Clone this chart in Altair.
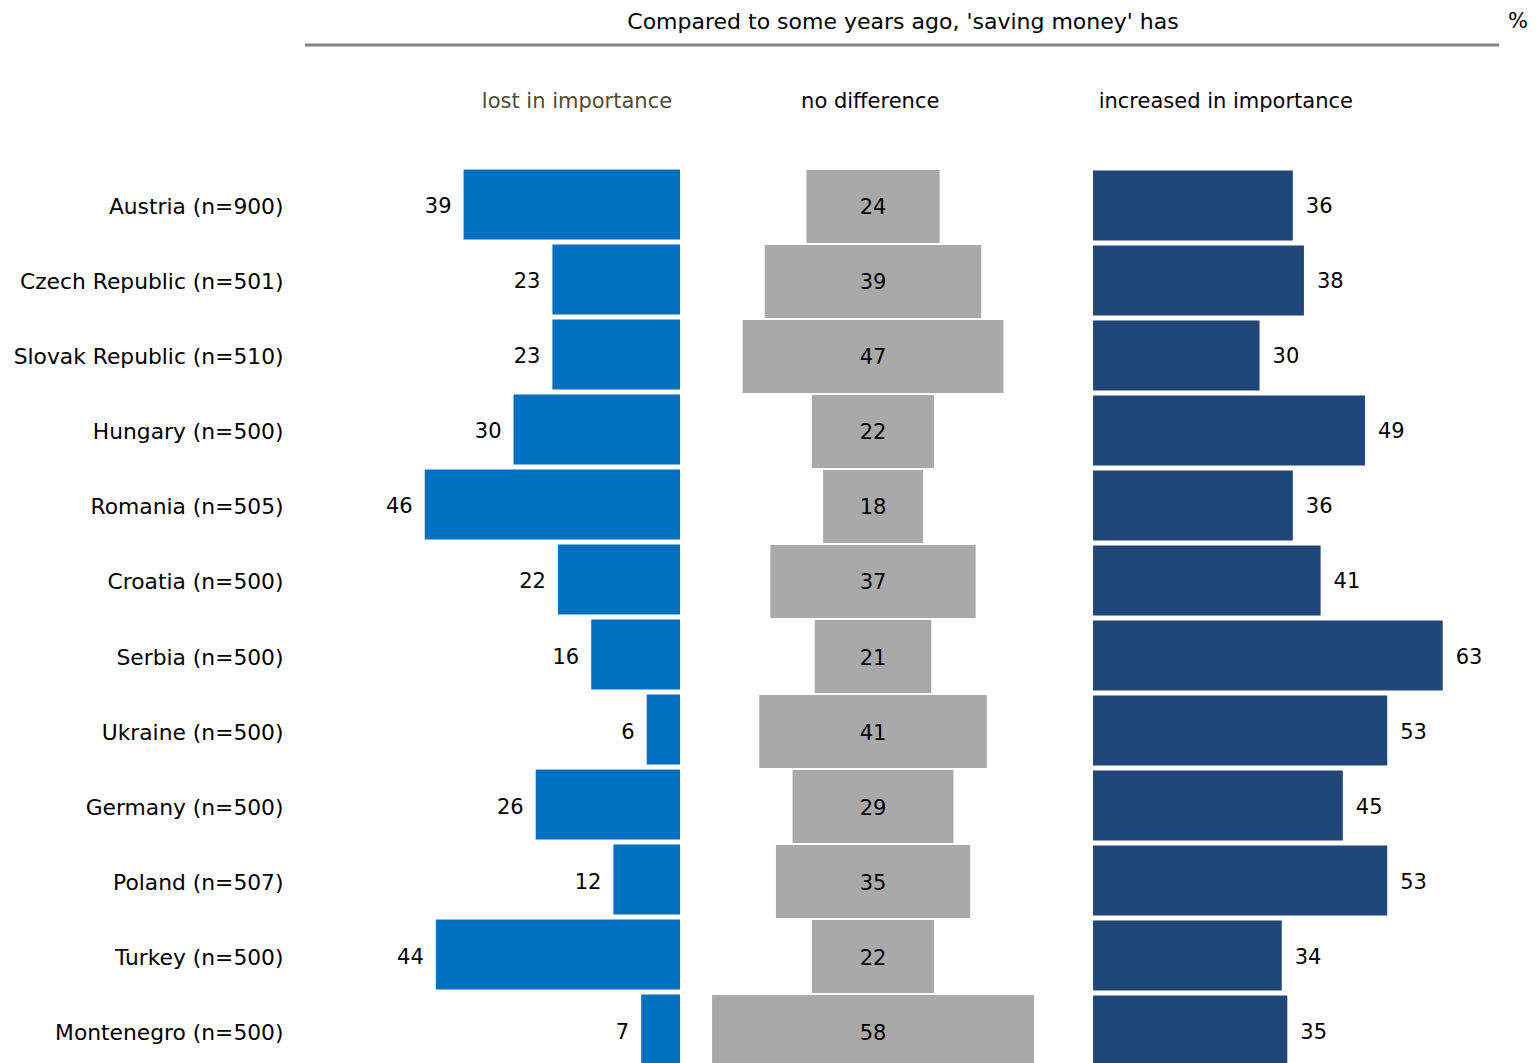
import altair as alt
import pandas as pd

countries = [
    "Austria (n=900)", "Czech Republic (n=501)", "Slovak Republic (n=510)",
    "Hungary (n=500)", "Romania (n=505)", "Croatia (n=500)", "Serbia (n=500)",
    "Ukraine (n=500)", "Germany (n=500)", "Poland (n=507)", "Turkey (n=500)",
    "Montenegro (n=500)",
]
lost = [39, 23, 23, 30, 46, 22, 16, 6, 26, 12, 44, 7]
nodiff = [24, 39, 47, 22, 18, 37, 21, 41, 29, 35, 22, 58]
increased = [36, 38, 30, 49, 36, 41, 63, 53, 45, 53, 34, 35]

headers = ["lost in importance", "no difference", "increased in importance"]
header_colors = ["#4F4B2F", "#000000", "#000000"]
title_text = "Compared to some years ago, 'saving money' has"

FONT = "DejaVu Sans"
FS = 21

# layout anchors in value units
LEFT_END = 68.47
MID = 103.24
RIGHT_START = 142.88
UNIT_MAX = 216.2

df = pd.DataFrame({"country": countries, "lost": lost, "nodiff": nodiff, "inc": increased})

x_scale = alt.Scale(domain=[0, UNIT_MAX], nice=False, zero=False)
y_scale = alt.Scale(domain=countries, range=[0, 900], paddingInner=0.0667, paddingOuter=0.0333)

base = alt.Chart(df).transform_calculate(
    lost_x0=f"{LEFT_END} - datum.lost",
    lost_x1=f"{LEFT_END}",
    nd_x0=f"{MID} - datum.nodiff / 2",
    nd_x1=f"{MID} + datum.nodiff / 2",
    nd_c=f"{MID}",
    inc_x0=f"{RIGHT_START}",
    inc_x1=f"{RIGHT_START} + datum.inc",
)

y_axis = alt.Axis(
    title=None, ticks=False, domain=False, grid=False,
    labelFont=FONT, labelFontSize=21.8, labelColor="#000000",
    labelPadding=17, labelLimit=400, labelBaseline="middle", labelOffset=3,
)


def Y():
    return alt.Y("country:N", scale=y_scale, sort=countries, axis=y_axis)


blue = base.mark_bar(color="#0070C0").encode(
    x=alt.X("lost_x0:Q", scale=x_scale, axis=None),
    x2="lost_x1:Q",
    y=Y(),
)
blue_txt = base.mark_text(align="right", baseline="middle", dx=-12, dy=3, font=FONT, fontSize=FS, color="#000000").encode(
    x=alt.X("lost_x0:Q", scale=x_scale, axis=None),
    y=Y(),
    text="lost:Q",
)

gray = base.mark_bar(color="#A9A9A9", height=73, yOffset=2).encode(
    x=alt.X("nd_x0:Q", scale=x_scale, axis=None),
    x2="nd_x1:Q",
    y=Y(),
)
gray_txt = base.mark_text(align="center", baseline="middle", dy=4, font=FONT, fontSize=FS, color="#000000").encode(
    x=alt.X("nd_c:Q", scale=x_scale, axis=None),
    y=Y(),
    text="nodiff:Q",
)

dark = base.mark_bar(color="#1F477A", yOffset=1).encode(
    x=alt.X("inc_x0:Q", scale=x_scale, axis=None),
    x2="inc_x1:Q",
    y=Y(),
)
dark_txt = base.mark_text(align="left", baseline="middle", dx=13, dy=3, font=FONT, fontSize=FS, color="#000000").encode(
    x=alt.X("inc_x1:Q", scale=x_scale, axis=None),
    y=Y(),
    text="inc:Q",
)

hdr_df = pd.DataFrame({
    "label": headers,
    "xpos": [49.9, MID - 0.5, 166.8],
    "col": header_colors,
})
hdr = alt.Chart(hdr_df).mark_text(align="center", baseline="middle", font=FONT, fontSize=FS).encode(
    x=alt.X("xpos:Q", scale=x_scale, axis=None),
    y=alt.value(-65),
    text="label:N",
    color=alt.Color("col:N", scale=None),
)

top_df = pd.DataFrame({"t": [title_text]})
title = alt.Chart(top_df).mark_text(align="center", baseline="middle", font=FONT, fontSize=22, color="#000000").encode(
    x=alt.value(603), y=alt.value(-145), text="t:N",
)
pct = alt.Chart(pd.DataFrame({"t": ["%"]})).mark_text(align="center", baseline="middle", font=FONT, fontSize=FS, color="#000000").encode(
    x=alt.value(1218), y=alt.value(-145), text="t:N",
)
rule = alt.Chart(top_df).mark_rule(color="#808080", strokeWidth=3).encode(
    x=alt.value(5), x2=alt.value(1199), y=alt.value(-122),
)

chart = alt.layer(blue, gray, dark, blue_txt, gray_txt, dark_txt, hdr, title, pct, rule).properties(
    width=1200, height=896,
    autosize=alt.AutoSizeParams(type="none"),
    padding={"left": 300, "top": 167, "right": 38, "bottom": 0},
).configure(background="white").configure_view(stroke=None, strokeWidth=0)

chart.save("out.html", embed_options={"renderer": "svg", "actions": False})
